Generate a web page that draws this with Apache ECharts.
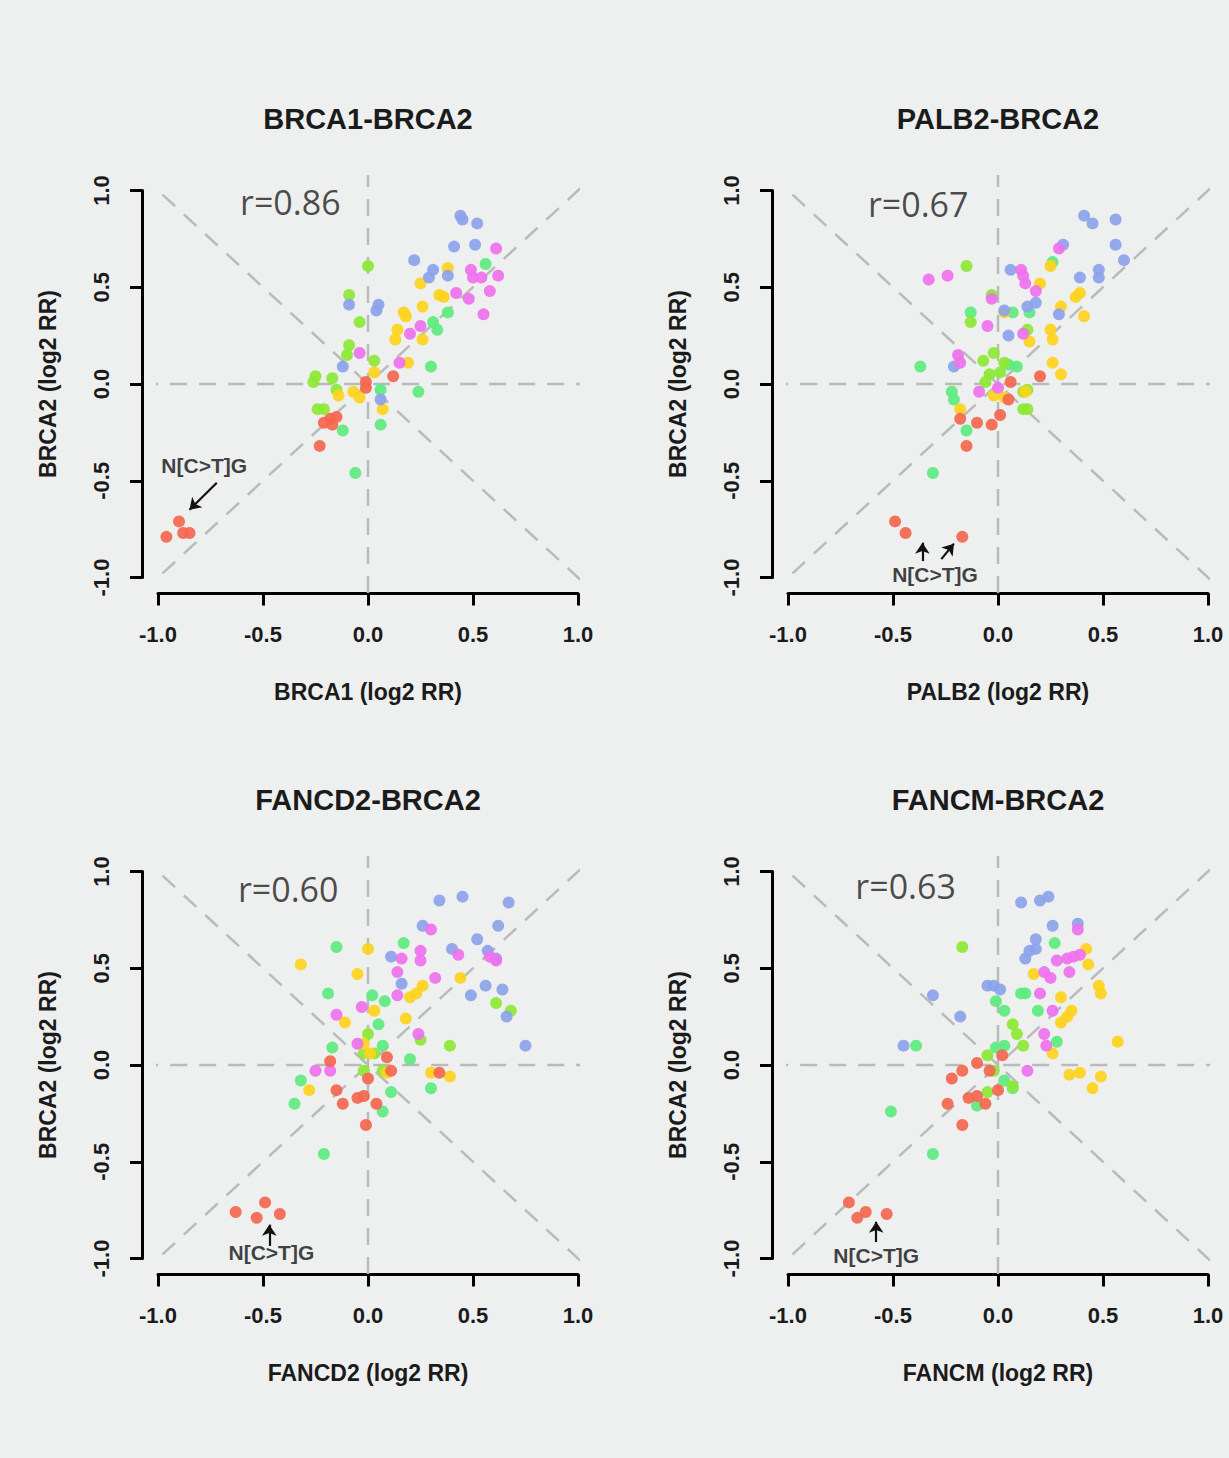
<!DOCTYPE html>
<html><head><meta charset="utf-8">
<script src="https://cdn.jsdelivr.net/npm/echarts@6/dist/echarts.min.js"></script>
<style>html,body{margin:0;padding:0;background:#EEF0EF;}#c{width:1229px;height:1458px;}</style>
</head><body><div id="c"></div>
<script>
// ---- tick labels / text ----
const tickValues = [-1.0, -0.5, 0.0, 0.5, 1.0];
const tickLabels = ['-1.0', '-0.5', '0.0', '0.5', '1.0'];
const panelTitles = ['BRCA1-BRCA2', 'PALB2-BRCA2', 'FANCD2-BRCA2', 'FANCM-BRCA2'];
const xNames = ['BRCA1 (log2 RR)', 'PALB2 (log2 RR)', 'FANCD2 (log2 RR)', 'FANCM (log2 RR)'];
const yName = 'BRCA2 (log2 RR)';
const rLabels = ['r=0.86', 'r=0.67', 'r=0.60', 'r=0.63'];
const annotText = 'N[C>T]G';

// ---- panel 1: BRCA1 vs BRCA2 ----
const p1Blue = [[0.44,0.87],[0.45,0.85],[0.52,0.83],[0.41,0.71],[0.51,0.72],[0.22,0.64],[0.31,0.59],[0.29,0.55],[-0.09,0.41],[0.05,0.41],[0.04,0.38],[-0.12,0.09],[0.38,0.56],[0.06,-0.08]];
const p1Magenta = [[0.61,0.70],[0.49,0.59],[0.50,0.55],[0.54,0.55],[0.62,0.56],[0.42,0.47],[0.48,0.44],[0.58,0.48],[0.55,0.36],[0.25,0.30],[0.20,0.26],[-0.04,0.16],[0.15,0.11]];
const p1Yellow = [[0.38,0.60],[0.25,0.52],[0.34,0.46],[0.36,0.45],[0.26,0.40],[0.17,0.37],[0.18,0.35],[0.14,0.28],[0.13,0.23],[0.26,0.23],[0.19,0.11],[0.03,0.06],[-0.07,-0.04],[-0.04,-0.07],[-0.14,-0.06],[0.07,-0.13]];
const p1Red = [[0.12,0.04],[-0.01,0.01],[-0.01,-0.02],[-0.18,-0.18],[-0.15,-0.17],[-0.21,-0.20],[-0.17,-0.21],[-0.23,-0.32],[-0.90,-0.71],[-0.88,-0.77],[-0.85,-0.77],[-0.96,-0.79]];
const p1Green = [[0.56,0.62],[0.38,0.37],[0.31,0.32],[0.33,0.28],[0.30,0.09],[0.24,-0.04],[0.06,-0.03],[0.06,-0.21],[-0.12,-0.24],[-0.06,-0.46]];
const p1Lime = [[0.00,0.61],[-0.09,0.46],[-0.04,0.32],[-0.09,0.20],[-0.10,0.15],[0.03,0.12],[-0.25,0.04],[-0.26,0.01],[-0.17,0.03],[-0.15,-0.03],[-0.21,-0.13],[-0.24,-0.13]];

// ---- panel 2: PALB2 vs BRCA2 ----
const p2Blue = [[0.41,0.87],[0.45,0.83],[0.56,0.85],[0.56,0.72],[0.60,0.64],[0.48,0.59],[0.48,0.55],[0.39,0.55],[0.31,0.72],[0.06,0.59],[0.14,0.40],[0.18,0.42],[0.29,0.36],[0.05,0.25],[-0.21,0.09],[0.03,0.38]];
const p2Magenta = [[0.29,0.70],[-0.33,0.54],[-0.24,0.56],[0.11,0.59],[0.12,0.56],[0.13,0.52],[0.18,0.48],[-0.05,0.30],[0.12,0.26],[-0.03,0.44],[-0.19,0.15],[-0.18,0.11],[-0.09,-0.04],[0.00,-0.02]];
const p2Yellow = [[0.25,0.61],[0.20,0.52],[0.37,0.45],[0.39,0.47],[0.30,0.40],[0.41,0.35],[0.03,0.37],[0.25,0.28],[0.26,0.23],[0.15,0.22],[0.26,0.11],[0.30,0.05],[0.13,-0.04],[-0.02,-0.06],[0.03,-0.07],[-0.18,-0.13]];
const p2Red = [[0.20,0.04],[0.06,0.01],[-0.18,-0.18],[-0.10,-0.20],[-0.03,-0.21],[0.01,-0.16],[-0.15,-0.32],[0.05,-0.08],[-0.49,-0.71],[-0.44,-0.77],[-0.17,-0.79]];
const p2Green = [[-0.37,0.09],[-0.22,-0.04],[-0.21,-0.08],[-0.15,-0.24],[-0.31,-0.46],[-0.13,0.37],[0.15,0.37],[0.26,0.63],[0.07,0.37],[0.05,0.10],[0.09,0.09]];
const p2Lime = [[-0.15,0.61],[-0.03,0.46],[-0.13,0.32],[0.14,0.28],[-0.07,0.12],[-0.02,0.16],[-0.06,0.01],[-0.04,0.05],[0.01,0.06],[0.03,0.11],[0.12,-0.04],[0.14,-0.03],[0.12,-0.13],[0.14,-0.13]];

// ---- panel 3: FANCD2 vs BRCA2 ----
const p3Blue = [[0.34,0.85],[0.45,0.87],[0.67,0.84],[0.62,0.72],[0.26,0.72],[0.52,0.65],[0.40,0.60],[0.57,0.59],[0.61,0.55],[0.11,0.56],[0.16,0.42],[0.56,0.41],[0.64,0.39],[0.49,0.36],[0.66,0.25],[0.75,0.10]];
const p3Magenta = [[0.30,0.70],[0.25,0.59],[0.25,0.54],[0.16,0.55],[0.14,0.48],[0.43,0.57],[0.58,0.56],[0.61,0.54],[0.32,0.45],[0.14,0.36],[-0.03,0.30],[-0.15,0.26],[0.24,0.16],[-0.25,-0.03],[-0.18,-0.03],[-0.05,0.11]];
const p3Yellow = [[-0.32,0.52],[-0.05,0.47],[0.00,0.60],[0.44,0.45],[0.26,0.41],[0.23,0.37],[0.20,0.35],[0.03,0.28],[0.18,0.24],[-0.11,0.22],[0.30,-0.04],[0.39,-0.06],[-0.28,-0.13],[0.01,0.06],[0.09,-0.04],[-0.02,0.11]];
const p3Red = [[-0.18,0.02],[0.09,0.04],[0.34,-0.04],[0.11,-0.03],[0.00,-0.07],[-0.15,-0.13],[-0.12,-0.20],[-0.05,-0.17],[-0.02,-0.16],[0.04,-0.20],[-0.01,-0.31],[-0.49,-0.71],[-0.63,-0.76],[-0.53,-0.79],[-0.42,-0.77]];
const p3Green = [[-0.15,0.61],[0.17,0.63],[-0.19,0.37],[0.02,0.36],[0.08,0.33],[0.05,0.21],[-0.17,0.09],[0.07,0.10],[-0.32,-0.08],[-0.35,-0.20],[0.07,-0.24],[0.11,-0.14],[-0.21,-0.46],[0.20,0.03],[0.30,-0.12]];
const p3Lime = [[0.61,0.32],[0.68,0.28],[0.39,0.10],[-0.02,0.06],[0.03,0.06],[-0.02,-0.03],[0.07,-0.03],[0.25,0.13],[0.00,0.16]];

// ---- panel 4: FANCM vs BRCA2 ----
const p4Blue = [[0.11,0.84],[0.20,0.85],[0.24,0.87],[0.26,0.72],[0.38,0.73],[0.18,0.65],[0.18,0.60],[0.13,0.55],[-0.05,0.41],[-0.02,0.41],[0.01,0.39],[-0.31,0.36],[-0.18,0.25],[-0.45,0.10],[0.15,0.59]];
const p4Magenta = [[0.38,0.70],[0.28,0.54],[0.33,0.55],[0.36,0.56],[0.39,0.57],[0.34,0.48],[0.22,0.48],[0.25,0.45],[0.20,0.37],[0.26,0.28],[0.22,0.16],[0.23,0.10],[0.14,-0.03]];
const p4Yellow = [[0.42,0.60],[0.43,0.52],[0.17,0.47],[0.48,0.41],[0.49,0.37],[0.30,0.35],[0.35,0.28],[0.33,0.25],[0.30,0.22],[0.26,0.06],[0.57,0.12],[0.34,-0.05],[0.39,-0.04],[0.49,-0.06],[0.45,-0.12]];
const p4Red = [[-0.10,0.01],[-0.17,-0.03],[-0.22,-0.07],[-0.04,-0.03],[0.02,0.05],[-0.24,-0.20],[-0.14,-0.17],[-0.10,-0.16],[-0.06,-0.20],[0.00,-0.13],[-0.17,-0.31],[-0.71,-0.71],[-0.63,-0.76],[-0.67,-0.79],[-0.53,-0.77]];
const p4Green = [[0.27,0.63],[0.11,0.37],[0.13,0.37],[-0.01,0.33],[0.03,0.28],[0.19,0.28],[-0.39,0.10],[-0.51,-0.24],[-0.31,-0.46],[0.03,-0.08],[0.07,-0.12],[-0.10,-0.21],[-0.01,0.09],[0.03,0.10],[0.28,0.12]];
const p4Lime = [[-0.17,0.61],[0.07,0.21],[0.09,0.16],[0.12,0.10],[-0.05,0.05],[-0.02,-0.03],[-0.05,-0.14],[0.07,-0.11]];

// ---- assembly (styles/positions below) ----
const panels = [
  {blue:p1Blue, magenta:p1Magenta, yellow:p1Yellow, red:p1Red, green:p1Green, lime:p1Lime},
  {blue:p2Blue, magenta:p2Magenta, yellow:p2Yellow, red:p2Red, green:p2Green, lime:p2Lime},
  {blue:p3Blue, magenta:p3Magenta, yellow:p3Yellow, red:p3Red, green:p3Green, lime:p3Lime},
  {blue:p4Blue, magenta:p4Magenta, yellow:p4Yellow, red:p4Red, green:p4Green, lime:p4Lime}
];
const groupOrder = ['green','lime','yellow','blue','magenta','red'];
const groupColors = {red:'#F4674F', yellow:'#FFD21C', lime:'#8DE836', green:'#5DEA7F', blue:'#8BA3EC', magenta:'#EE72EE'};

// layout
const gridPos = [
  {left:158, top:190.5}, {left:788, top:190.5},
  {left:158, top:871.5}, {left:788, top:871.5}
];
const GW = 420, GH = 387, EXT = 1.08;
const rPos = [[-0.37,0.94],[-0.38,0.93],[-0.38,0.91],[-0.44,0.925]];
const annotPos = [[-0.78,-0.42],[-0.30,-0.985],[-0.46,-0.97],[-0.58,-0.985]];
const arrows = [
  [[[-0.72,-0.51],[-0.85,-0.65]]],
  [[[-0.36,-0.915],[-0.36,-0.82]], [[-0.27,-0.905],[-0.21,-0.825]]],
  [[[-0.47,-0.935],[-0.47,-0.825]]],
  [[[-0.58,-0.915],[-0.58,-0.81]]]
];

const FONT = '"Liberation Sans", Arial, Helvetica, sans-serif';
const TXT = '#1b1b1b';
const grids = [], xAxes = [], yAxes = [], series = [], graphics = [];

panels.forEach((p, i) => {
  grids.push({left:gridPos[i].left, top:gridPos[i].top, width:GW, height:GH});
  const lab = v => { const k = tickValues.findIndex(t => Math.abs(t - v) < 1e-9); return k >= 0 ? tickLabels[k] : ''; };
  xAxes.push({
    gridIndex:i, type:'value', min:tickValues[0], max:tickValues[tickValues.length-1], interval:0.5,
    position:'bottom', offset:16,
    axisLine:{show:true, onZero:false, lineStyle:{color:'#000', width:3}},
    axisTick:{show:true, length:12, lineStyle:{color:'#000', width:3}},
    axisLabel:{show:true, formatter:lab, fontSize:22, fontWeight:'bold', fontFamily:FONT, color:TXT, margin:30, showMinLabel:true, showMaxLabel:true},
    splitLine:{show:false},
    name:xNames[i], nameLocation:'middle', nameGap:87,
    nameTextStyle:{fontSize:23, fontWeight:'bold', fontFamily:FONT, color:TXT}
  });
  yAxes.push({
    gridIndex:i, type:'value', min:tickValues[0], max:tickValues[tickValues.length-1], interval:0.5,
    position:'left', offset:16,
    axisLine:{show:true, onZero:false, lineStyle:{color:'#000', width:3}},
    axisTick:{show:true, length:12, lineStyle:{color:'#000', width:3}},
    axisLabel:{show:true, formatter:lab, rotate:90, fontSize:22, fontWeight:'bold', fontFamily:FONT, color:TXT, margin:30, showMinLabel:true, showMaxLabel:true},
    splitLine:{show:false},
    name:yName, nameLocation:'middle', nameGap:83, nameRotate:90,
    nameTextStyle:{fontSize:23, fontWeight:'bold', fontFamily:FONT, color:TXT}
  });
  // reference dashed lines (abline h=0, v=0, y=x, y=-x)
  const refLines = [
    [[-EXT,0],[EXT,0]], [[0,-EXT],[0,EXT]], [[-EXT,-EXT],[EXT,EXT]], [[-EXT,EXT],[EXT,-EXT]]
  ];
  refLines.forEach(d => series.push({
    type:'line', xAxisIndex:i, yAxisIndex:i, data:d, showSymbol:false, symbol:'none', clip:false, silent:true, z:1,
    lineStyle:{color:'#B9BBBA', width:2.5, type:[17,12]}
  }));
  groupOrder.forEach(g => series.push({
    type:'scatter', xAxisIndex:i, yAxisIndex:i, data:p[g], symbol:'circle', symbolSize:12, z:3,
    itemStyle:{color:groupColors[g], opacity:0.92}, silent:true
  }));
  // r label + annotation
  series.push({
    type:'scatter', xAxisIndex:i, yAxisIndex:i, symbolSize:0, silent:true, z:5, clip:false,
    data:[
      {value:rPos[i], label:{show:true, position:'inside', formatter:rLabels[i], fontSize:34, fontFamily:'"Open Sans", "DejaVu Sans", sans-serif', color:'#1e1e1e'}},
      {value:annotPos[i], label:{show:true, position:'inside', formatter:annotText, fontSize:21, fontWeight:'bold', fontFamily:FONT, color:'#111'}}
    ],
    markLine:{
      silent:true, symbol:['none','arrow'], symbolSize:11, animation:false, precision:4,
      lineStyle:{color:'#111', width:2.2, type:'solid'}, label:{show:false},
      data: arrows[i].map(a => [{coord:a[0], symbol:'none'},{coord:a[1], symbol:'arrow', symbolSize:11}])
    }
  });
  graphics.push({
    type:'text', x:gridPos[i].left + GW/2, y:gridPos[i].top - 72,
    style:{text:panelTitles[i], font:'bold 29px ' + FONT, fill:TXT, textAlign:'center', textVerticalAlign:'middle'}
  });
});

const chart = echarts.init(document.getElementById('c'), null, {renderer:'svg', width:1229, height:1458});
chart.setOption({
  backgroundColor:'#EEF0EF', animation:false,
  grid:grids, xAxis:xAxes, yAxis:yAxes, series:series, graphic:graphics
});
</script></body></html>
